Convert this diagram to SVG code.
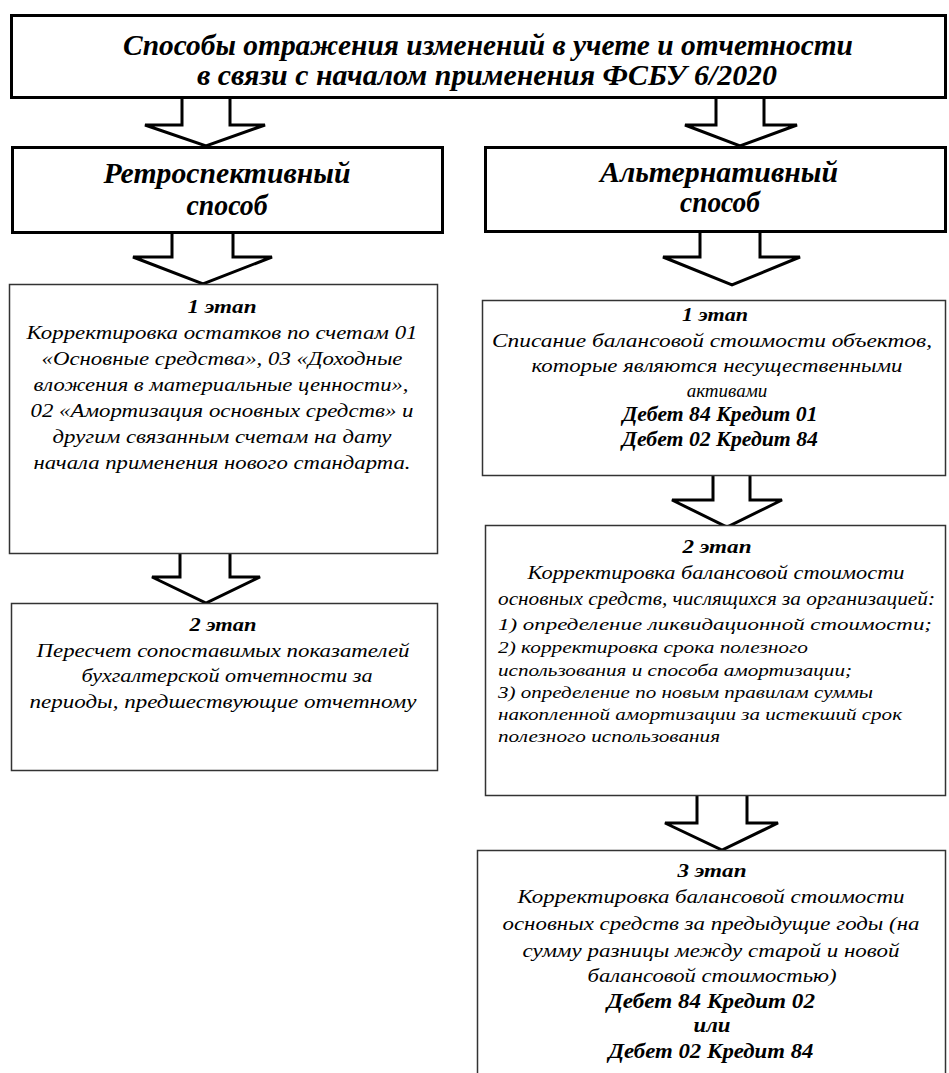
<svg xmlns="http://www.w3.org/2000/svg" width="949" height="1073" viewBox="0 0 949 1073">
<style>
.thick{fill:#fff;stroke:#000;stroke-width:3}
.thin{fill:#fff;stroke:#333;stroke-width:1.5}
.arr{fill:#fff;stroke:#000;stroke-width:3;stroke-linejoin:miter}
text{font-family:"Liberation Serif","Times New Roman",serif;fill:#000;font-style:italic}
.ttl{font-size:30px;font-weight:bold;text-anchor:middle}
.hd{font-size:29px;font-weight:bold;text-anchor:middle}
.b{font-size:19px;font-weight:bold;text-anchor:middle}
.db{font-size:20px;font-weight:bold;text-anchor:middle}
.t{font-size:19px;text-anchor:middle}
.l{font-size:17px;text-anchor:start}
</style>
<g id="connectors">
<polyline class="arr" points="182,97 182,125 145,125 206,146 265,125 230,125 230,97"/>
<polyline class="arr" points="716,97 716,125 685,125 740,146 797,125 764,125 764,97"/>
<polyline class="arr" points="172,233 172,257 133,257 203,284 272,257 233,257 233,233"/>
<polyline class="arr" points="700,231 700,257 663,257 732,285 800,257 760,257 760,231"/>
<polyline class="arr" points="180,553 180,577 152,577 206,603 260,577 230,577 230,553"/>
<polyline class="arr" points="713,475 713,500 672,500 727,527 782,500 750,500 750,475"/>
<polyline class="arr" points="697,795 697,823 665,823 722,850 778,823 747,823 747,795"/>
</g>
<g id="title">
<rect class="thick" x="11.5" y="15.5" width="934" height="82"/>
<text class="ttl" x="488" y="55" textLength="730" lengthAdjust="spacingAndGlyphs">Способы отражения изменений в учете и отчетности</text>
<text class="ttl" x="487" y="85" textLength="580" lengthAdjust="spacingAndGlyphs">в связи с началом применения ФСБУ 6/2020</text>
</g>
<g id="retro">
<rect class="thick" x="12.5" y="147.5" width="430" height="85"/>
<text class="hd" x="227" y="183" textLength="247" lengthAdjust="spacingAndGlyphs">Ретроспективный</text>
<text class="hd" x="227" y="215" textLength="81" lengthAdjust="spacingAndGlyphs">способ</text>
</g>
<g id="alt">
<rect class="thick" x="485.5" y="147.5" width="460" height="84"/>
<text class="hd" x="719" y="182" textLength="238" lengthAdjust="spacingAndGlyphs">Альтернативный</text>
<text class="hd" x="720" y="212" textLength="80" lengthAdjust="spacingAndGlyphs">способ</text>
</g>
<g id="retro-stage1">
<rect class="thin" x="9.5" y="284.5" width="428" height="269"/>
<text class="b" x="222" y="313" textLength="69" lengthAdjust="spacingAndGlyphs">1 этап</text>
<text class="t" x="222" y="339" textLength="391" lengthAdjust="spacingAndGlyphs">Корректировка остатков по счетам 01</text>
<text class="t" x="222" y="365" textLength="361" lengthAdjust="spacingAndGlyphs">«Основные средства», 03 «Доходные</text>
<text class="t" x="221" y="391" textLength="375" lengthAdjust="spacingAndGlyphs">вложения в материальные ценности»,</text>
<text class="t" x="222" y="417" textLength="383" lengthAdjust="spacingAndGlyphs">02 «Амортизация основных средств» и</text>
<text class="t" x="222" y="443" textLength="339" lengthAdjust="spacingAndGlyphs">другим связанным счетам на дату</text>
<text class="t" x="222" y="469" textLength="377" lengthAdjust="spacingAndGlyphs">начала применения нового стандарта.</text>
</g>
<g id="retro-stage2">
<rect class="thin" x="11.5" y="603.5" width="426" height="167"/>
<text class="b" x="223" y="631" textLength="67" lengthAdjust="spacingAndGlyphs">2 этап</text>
<text class="t" x="223" y="657" textLength="373" lengthAdjust="spacingAndGlyphs">Пересчет сопоставимых показателей</text>
<text class="t" x="227" y="682" textLength="291" lengthAdjust="spacingAndGlyphs">бухгалтерской отчетности за</text>
<text class="t" x="223" y="708" textLength="387" lengthAdjust="spacingAndGlyphs">периоды, предшествующие отчетному</text>
</g>
<g id="alt-stage1">
<rect class="thin" x="482.5" y="300.5" width="463" height="175"/>
<text class="b" x="715" y="321" textLength="66" lengthAdjust="spacingAndGlyphs">1 этап</text>
<text class="t" x="712" y="347" textLength="440" lengthAdjust="spacingAndGlyphs">Списание балансовой стоимости объектов,</text>
<text class="t" x="717" y="372" textLength="371" lengthAdjust="spacingAndGlyphs">которые являются несущественными</text>
<text class="t" x="727" y="397">активами</text>
<text class="db" x="720" y="421" textLength="195" lengthAdjust="spacingAndGlyphs">Дебет 84 Кредит 01</text>
<text class="db" x="720" y="446" textLength="196" lengthAdjust="spacingAndGlyphs">Дебет 02 Кредит 84</text>
</g>
<g id="alt-stage2">
<rect class="thin" x="485.5" y="525.5" width="460" height="270"/>
<text class="b" x="717" y="553" textLength="69" lengthAdjust="spacingAndGlyphs">2 этап</text>
<text class="t" x="716" y="579" textLength="377" lengthAdjust="spacingAndGlyphs">Корректировка балансовой стоимости</text>
<text class="t" x="498" y="605" style="text-anchor:start" textLength="437" lengthAdjust="spacingAndGlyphs">основных средств, числящихся за организацией:</text>
<text class="l" x="498" y="630" textLength="434" lengthAdjust="spacingAndGlyphs">1) определение ликвидационной стоимости;</text>
<text class="l" x="498" y="653" textLength="310" lengthAdjust="spacingAndGlyphs">2) корректировка срока полезного</text>
<text class="l" x="498" y="676" textLength="354" lengthAdjust="spacingAndGlyphs">использования и способа амортизации;</text>
<text class="l" x="498" y="698" textLength="375" lengthAdjust="spacingAndGlyphs">3) определение по новым правилам суммы</text>
<text class="l" x="498" y="720" textLength="404" lengthAdjust="spacingAndGlyphs">накопленной амортизации за истекший срок</text>
<text class="l" x="498" y="742" textLength="222" lengthAdjust="spacingAndGlyphs">полезного использования</text>
</g>
<g id="alt-stage3">
<rect class="thin" x="477.5" y="850.5" width="468" height="240"/>
<text class="b" x="712" y="877" textLength="69" lengthAdjust="spacingAndGlyphs">3 этап</text>
<text class="t" x="711" y="903" textLength="387" lengthAdjust="spacingAndGlyphs">Корректировка балансовой стоимости</text>
<text class="t" x="711" y="930" textLength="417" lengthAdjust="spacingAndGlyphs">основных средств за предыдущие годы (на</text>
<text class="t" x="711" y="957" textLength="377" lengthAdjust="spacingAndGlyphs">сумму разницы между старой и новой</text>
<text class="t" x="712" y="982" textLength="249" lengthAdjust="spacingAndGlyphs">балансовой стоимостью)</text>
<text class="db" x="711" y="1008" textLength="208" lengthAdjust="spacingAndGlyphs">Дебет 84 Кредит 02</text>
<text class="db" x="712" y="1032" textLength="37" lengthAdjust="spacingAndGlyphs">или</text>
<text class="db" x="711" y="1058" textLength="205" lengthAdjust="spacingAndGlyphs">Дебет 02 Кредит 84</text>
</g>
</svg>
